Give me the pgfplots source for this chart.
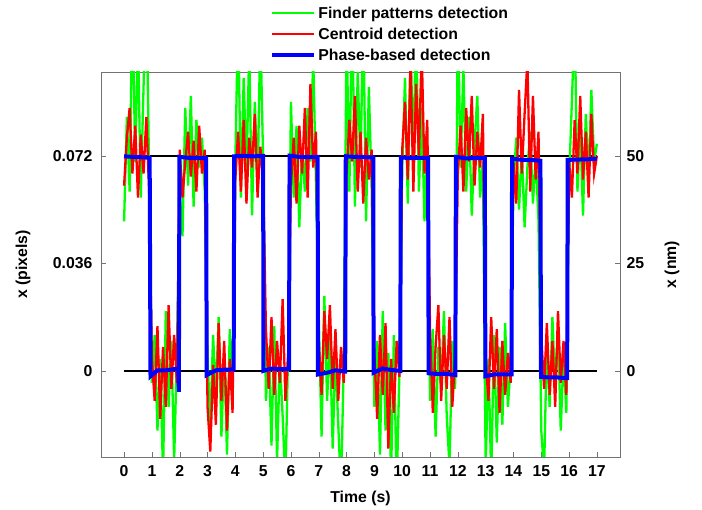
\documentclass[border=0pt]{standalone}
\usepackage{fontspec}
\setmainfont{Liberation Sans}
\usepackage{pgfplots}
\usepackage{pgfplotstable}
\pgfplotsset{compat=1.18}

\definecolor{fpgreen}{RGB}{0,255,0}
\definecolor{cdred}{RGB}{255,0,0}
\definecolor{pbblue}{RGB}{0,0,255}

% t  finder  centroid
\pgfplotstableread{
t g r
0.0 0.050 0.062
0.1 0.085 0.078
0.2 0.060 0.088
0.3 0.125 0.066
0.4 0.070 0.082
0.5 0.112 0.058
0.6 0.058 0.079
0.7 0.095 0.066
0.8 0.130 0.085
0.9 0.066 0.060
1.0 -0.004 0.004
1.1 0.012 -0.010
1.2 -0.020 0.015
1.3 0.004 -0.016
1.4 -0.035 0.008
1.5 0.020 -0.012
1.6 -0.012 0.022
1.7 0.010 -0.006
1.8 -0.030 0.012
1.9 0.006 -0.004
2.0 0.060 0.074
2.1 0.045 0.058
2.2 0.088 0.070
2.3 0.062 0.080
2.4 0.092 0.065
2.5 0.055 0.077
2.6 0.084 0.060
2.7 0.068 0.082
2.8 0.078 0.066
2.9 0.060 0.074
3.0 0.005 -0.012
3.1 -0.018 -0.027
3.2 0.012 0.002
3.3 -0.008 -0.018
3.4 0.018 0.016
3.5 -0.022 -0.010
3.6 0.006 0.010
3.7 -0.028 -0.020
3.8 0.014 0.004
3.9 -0.006 -0.014
4.0 0.070 0.064
4.1 0.120 0.080
4.2 0.058 0.060
4.3 0.098 0.084
4.4 0.066 0.056
4.5 0.108 0.078
4.6 0.052 0.068
4.7 0.090 0.086
4.8 0.062 0.058
4.9 0.115 0.075
5.0 0.070 0.064
5.1 -0.010 0.014
5.2 0.008 -0.006
5.3 -0.025 0.018
5.4 0.015 -0.008
5.5 -0.030 0.010
5.6 0.004 -0.004
5.7 -0.015 0.024
5.8 -0.038 -0.010
5.9 0.008 0.006
6.0 0.090 0.062
6.1 0.058 0.078
6.2 0.082 0.056
6.3 0.048 0.082
6.4 0.075 0.066
6.5 0.060 0.088
6.6 0.088 0.058
6.7 0.070 0.096
6.8 0.105 0.068
6.9 0.062 0.080
7.0 0.018 0.010
7.1 -0.022 -0.008
7.2 0.025 0.020
7.3 -0.010 0.004
7.4 0.012 0.022
7.5 -0.026 -0.006
7.6 0.006 0.014
7.7 -0.018 -0.010
7.8 -0.040 0.008
7.9 0.004 -0.004
8.0 0.115 0.066
8.1 0.060 0.084
8.2 0.125 0.070
8.3 0.055 0.092
8.4 0.100 0.060
8.5 0.068 0.080
8.6 0.120 0.056
8.7 0.050 0.078
8.8 0.095 0.064
8.9 0.062 0.074
9.0 -0.012 0.006
9.1 0.010 -0.016
9.2 -0.028 0.012
9.3 0.020 -0.008
9.4 -0.020 0.016
9.5 0.006 -0.026
9.6 -0.035 0.004
9.7 0.012 -0.014
9.8 -0.040 0.010
9.9 0.000 -0.002
10.0 0.068 0.074
10.1 0.098 0.090
10.2 0.056 0.064
10.3 0.110 0.104
10.4 0.070 0.060
10.5 0.118 0.096
10.6 0.060 0.072
10.7 0.088 0.108
10.8 0.050 0.066
10.9 0.076 0.084
11.0 -0.010 0.014
11.1 0.014 -0.014
11.2 -0.022 0.008
11.3 0.008 0.022
11.4 -0.006 -0.010
11.5 0.020 0.012
11.6 -0.015 -0.006
11.7 -0.032 0.018
11.8 0.010 -0.012
11.9 -0.006 0.004
12.0 0.120 0.066
12.1 0.068 0.082
12.2 0.102 0.060
12.3 0.060 0.088
12.4 0.085 0.070
12.5 0.052 0.092
12.6 0.076 0.062
12.7 0.092 0.080
12.8 0.058 0.068
12.9 0.070 0.086
13.0 -0.032 0.004
13.1 0.004 -0.010
13.2 -0.036 0.018
13.3 0.012 -0.006
13.4 -0.024 0.014
13.5 0.008 -0.014
13.6 -0.018 0.010
13.7 0.016 -0.008
13.8 -0.012 0.006
13.9 0.002 -0.004
14.0 0.062 0.070
14.1 0.078 0.056
14.2 0.054 0.094
14.3 0.074 0.066
14.4 0.048 0.086
14.5 0.068 0.104
14.6 0.080 0.060
14.7 0.056 0.092
14.8 0.072 0.064
14.9 0.050 0.080
15.0 -0.020 0.012
15.1 -0.034 -0.006
15.2 0.010 0.016
15.3 -0.012 -0.008
15.4 0.018 0.010
15.5 -0.006 -0.012
15.6 0.014 0.020
15.7 -0.020 -0.004
15.8 0.006 0.010
15.9 -0.014 -0.008
16.0 0.064 0.070
16.1 0.090 0.058
16.2 0.118 0.084
16.3 0.060 0.066
16.4 0.082 0.092
16.5 0.052 0.064
16.6 0.086 0.080
16.7 0.064 0.058
16.8 0.094 0.086
16.9 0.070 0.066
17.0 0.076 0.072
}\detdata

\begin{document}
\begin{tikzpicture}[font=\bfseries\fontsize{15.8}{19}\selectfont]
\useasboundingbox (-101pt,-53pt) rectangle (601pt,457pt);
\begin{axis}[
    scale only axis,
    width=519pt, height=385pt,
    xmin=-0.83, xmax=17.83,
    ymin=-0.0288, ymax=0.1,
    xtick={0,1,...,17},
    ytick={0,0.036,0.072},
    yticklabels={0,0.036,0.072},
    xtick pos=bottom, ytick pos=left,
    tick align=inside,
    major tick length=5pt,
    axis line style={black!55},
    tick style={black!55},
    /pgf/number format/assume math mode=true,
    xticklabel style={yshift=-5pt},
    yticklabel style={xshift=-5pt},
    xlabel={Time (s)},
    xlabel style={yshift=-7pt},
    ylabel={x (pixels)},
    every axis y label/.style={at={(rel axis cs:0,0.5)}, xshift=-78pt, rotate=90, anchor=center},
    legend cell align=left,
    legend style={draw=none, fill=none, at={(0.326,1.175)}, anchor=north west,
        inner sep=0pt, row sep=4pt, nodes={inner sep=2pt}},
    legend image code/.code={\draw[#1] (0pt,0pt) -- (42pt,0pt);},
]
\addplot[black, line width=2pt, forget plot] coordinates {(0,0) (17,0)};
\addplot[black, line width=2pt, forget plot] coordinates {(0,0.072) (17,0.072)};
\addplot[fpgreen, line width=2.3pt] table[x=t, y=g] {\detdata};
\addplot[cdred, line width=2.3pt] table[x=t, y=r] {\detdata};
\addplot[pbblue, line width=4pt] coordinates {
(0,0.0718) (0.3,0.0716) (0.6,0.0715) (0.92,0.0713) (0.95,-0.0018)
(1.2,0.0002) (1.5,0.0002) (1.8,0.0006) (1.95,0.0008) (1.97,-0.0070)
(1.99,0.0716) (2.3,0.0713) (2.6,0.0712) (2.95,0.0712) (2.97,-0.0014)
(3.3,0.0002) (3.6,0.0004) (3.94,0.0005) (3.96,0.0718) (4.3,0.0719)
(4.7,0.0718) (5.0,0.0719) (5.01,0.0000) (5.3,0.0008) (5.6,0.0006)
(5.93,0.0006) (5.95,0.0720) (6.3,0.0716) (6.7,0.0715) (6.96,0.0716)
(6.97,-0.0012) (7.3,-0.0006) (7.6,0.0002) (7.95,-0.0002) (7.97,0.0718)
(8.3,0.0716) (8.6,0.0715) (8.96,0.0714) (8.97,-0.0006) (9.3,0.0008)
(9.6,0.0003) (9.93,0.0000) (9.95,0.0714) (10.3,0.0712) (10.6,0.0713)
(10.93,0.0713) (10.95,-0.0008) (11.2,-0.0010) (11.6,-0.0010) (11.91,-0.0014)
(11.93,0.0716) (12.3,0.0711) (12.6,0.0712) (12.97,0.0712) (12.99,-0.0018)
(13.3,-0.0012) (13.6,-0.0012) (13.93,-0.0012) (13.95,0.0710) (14.3,0.0706)
(14.7,0.0705) (14.97,0.0703) (14.99,-0.0020) (15.3,-0.0022) (15.6,-0.0022)
(15.93,-0.0024) (15.95,0.0706) (16.3,0.0707) (16.7,0.0708) (17.0,0.0710)
};
\legend{Finder patterns detection, Centroid detection, Phase-based detection}
\end{axis}
\begin{axis}[
    scale only axis,
    width=519pt, height=385pt,
    xmin=-0.83, xmax=17.83,
    ymin=-20, ymax=69.44,
    axis x line=none,
    axis y line*=right,
    ytick={0,25,50},
    tick align=inside,
    major tick length=5pt,
    axis line style={black!55},
    tick style={black!55},
    /pgf/number format/assume math mode=true,
    yticklabel style={xshift=3pt},
    ylabel={x (nm)},
    every axis y label/.style={at={(rel axis cs:1,0.5)}, xshift=52pt, rotate=90, anchor=center},
]
\end{axis}
\end{tikzpicture}
\end{document}
